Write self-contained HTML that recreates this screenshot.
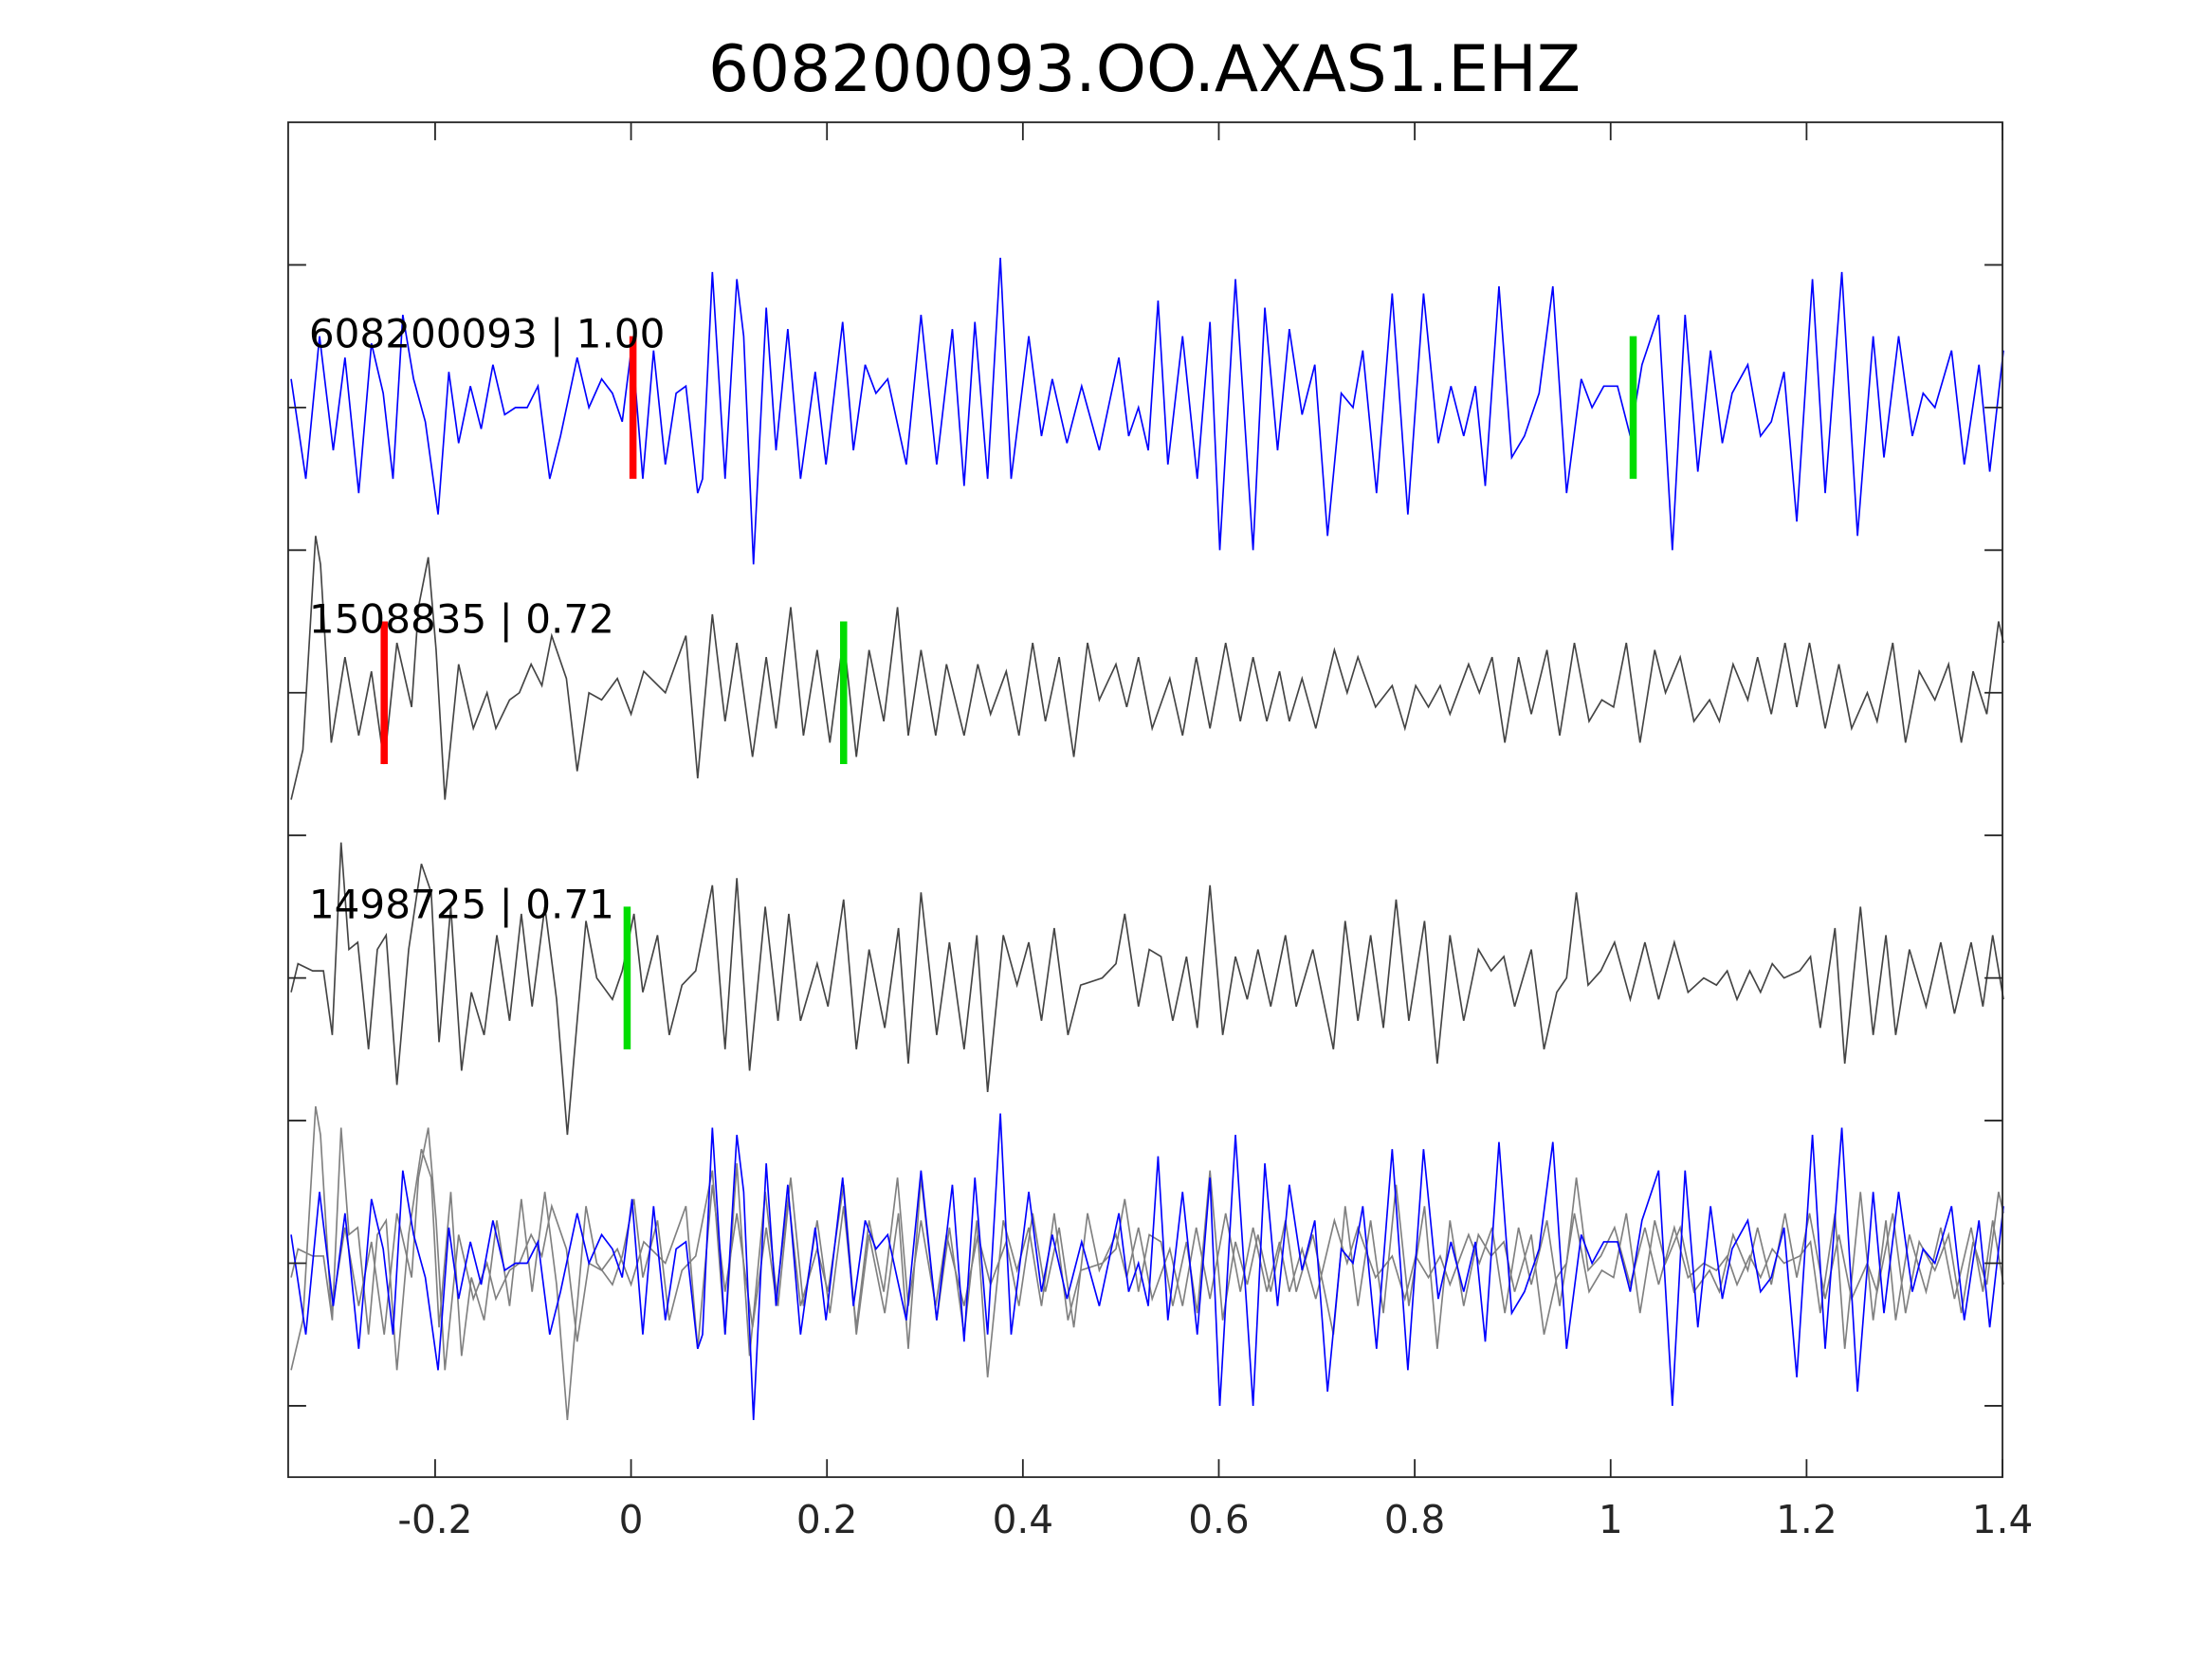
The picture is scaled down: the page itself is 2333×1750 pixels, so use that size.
<!DOCTYPE html>
<html><head><meta charset="utf-8"><style>
html,body{margin:0;padding:0;background:#fff;}
svg{display:block;}
text{font-family:"DejaVu Sans","Liberation Sans",sans-serif;}
</style></head><body>
<svg id="chart" width="2333" height="1750" viewBox="0 0 1552 1164" preserveAspectRatio="none" xmlns="http://www.w3.org/2000/svg">
<rect x="0" y="0" width="1552" height="1164" fill="#fff"/>
<text x="803" y="64" font-size="45" text-anchor="middle" fill="#000">608200093.OO.AXAS1.EHZ</text>
<g id="plot"></g>
</svg>
<script>
const xTicks=[-0.2,0,0.2,0.4,0.6,0.8,1,1.2,1.4];
const xTickLabels=["-0.2","0","0.2","0.4","0.6","0.8","1","1.2","1.4"];
const yTicks=[0,1,2,3,4,5,6,7,8];
const traceBaselines=[7,5,3,1];
const traceLabels=["608200093 | 1.00","1508835 | 0.72","1498725 | 0.71"];
const t1=[-0.347,-0.332,-0.318,-0.304,-0.292,-0.278,-0.265,-0.253,-0.243,-0.233,-0.222,-0.210,-0.197,-0.186,-0.176,-0.164,-0.153,-0.141,-0.129,-0.118,-0.106,-0.095,-0.083,-0.072,-0.055,-0.043,-0.030,-0.019,-0.009,0.001,0.012,0.023,0.035,0.046,0.056,0.068,0.073,0.083,0.096,0.108,0.115,0.125,0.138,0.148,0.160,0.173,0.188,0.199,0.216,0.227,0.239,0.250,0.262,0.281,0.296,0.312,0.328,0.340,0.351,0.364,0.377,0.388,0.406,0.419,0.430,0.445,0.460,0.478,0.498,0.508,0.518,0.528,0.538,0.548,0.563,0.578,0.591,0.601,0.617,0.635,0.647,0.660,0.672,0.685,0.698,0.711,0.725,0.737,0.747,0.761,0.777,0.793,0.809,0.824,0.837,0.850,0.862,0.872,0.886,0.899,0.912,0.927,0.941,0.955,0.970,0.981,0.993,1.007,1.020,1.032,1.049,1.063,1.076,1.089,1.102,1.114,1.124,1.140,1.153,1.164,1.177,1.190,1.206,1.219,1.236,1.252,1.268,1.279,1.294,1.308,1.319,1.331,1.348,1.361,1.376,1.387,1.401];
const v1=[0.2,-0.5,0.5,-0.3,0.35,-0.6,0.45,0.1,-0.5,0.65,0.2,-0.1,-0.75,0.25,-0.25,0.15,-0.15,0.3,-0.05,0,0,0.15,-0.5,-0.2,0.35,0,0.2,0.1,-0.1,0.45,-0.5,0.4,-0.4,0.1,0.15,-0.6,-0.5,0.95,-0.5,0.9,0.5,-1.1,0.7,-0.3,0.55,-0.5,0.25,-0.4,0.6,-0.3,0.3,0.1,0.2,-0.4,0.65,-0.4,0.55,-0.55,0.6,-0.5,1.05,-0.5,0.5,-0.2,0.2,-0.25,0.15,-0.3,0.35,-0.2,0,-0.3,0.75,-0.4,0.5,-0.5,0.6,-1.0,0.9,-1.0,0.7,-0.3,0.55,-0.05,0.3,-0.9,0.1,0,0.4,-0.6,0.8,-0.75,0.8,-0.25,0.15,-0.2,0.15,-0.55,0.85,-0.35,-0.2,0.1,0.85,-0.6,0.2,0,0.15,0.15,-0.2,0.3,0.65,-1.0,0.65,-0.45,0.4,-0.25,0.1,0.3,-0.2,-0.1,0.25,-0.8,0.9,-0.6,0.95,-0.9,0.5,-0.35,0.5,-0.2,0.1,0,0.4,-0.4,0.3,-0.45,0.4];
const t2=[-0.347,-0.335,-0.322,-0.317,-0.306,-0.292,-0.278,-0.265,-0.252,-0.239,-0.224,-0.217,-0.207,-0.199,-0.190,-0.176,-0.161,-0.147,-0.138,-0.124,-0.114,-0.102,-0.091,-0.081,-0.066,-0.055,-0.043,-0.030,-0.014,0,0.013,0.035,0.056,0.068,0.083,0.096,0.108,0.124,0.138,0.148,0.163,0.176,0.190,0.203,0.217,0.230,0.243,0.258,0.272,0.283,0.296,0.311,0.322,0.340,0.354,0.367,0.383,0.396,0.410,0.423,0.437,0.452,0.466,0.478,0.495,0.506,0.518,0.532,0.550,0.563,0.577,0.591,0.607,0.622,0.635,0.649,0.662,0.672,0.685,0.699,0.718,0.731,0.742,0.760,0.777,0.790,0.801,0.814,0.826,0.836,0.855,0.866,0.879,0.892,0.906,0.919,0.935,0.948,0.963,0.978,0.991,1.003,1.016,1.030,1.045,1.056,1.071,1.085,1.101,1.111,1.125,1.140,1.150,1.164,1.178,1.190,1.203,1.219,1.233,1.246,1.262,1.272,1.288,1.301,1.315,1.331,1.345,1.358,1.370,1.384,1.396,1.401];
const v2=[-0.75,-0.4,1.1,0.9,-0.35,0.25,-0.3,0.15,-0.5,0.35,-0.1,0.6,0.95,0.3,-0.75,0.2,-0.25,0,-0.25,-0.05,0,0.2,0.05,0.4,0.1,-0.55,0,-0.05,0.1,-0.15,0.15,0,0.4,-0.6,0.55,-0.2,0.35,-0.45,0.25,-0.25,0.6,-0.3,0.3,-0.35,0.4,-0.45,0.3,-0.2,0.6,-0.3,0.3,-0.3,0.2,-0.3,0.2,-0.15,0.15,-0.3,0.35,-0.2,0.25,-0.45,0.35,-0.05,0.2,-0.1,0.25,-0.25,0.1,-0.3,0.25,-0.25,0.35,-0.2,0.25,-0.2,0.15,-0.2,0.1,-0.25,0.3,0,0.25,-0.1,0.05,-0.25,0.05,-0.1,0.05,-0.15,0.2,0,0.25,-0.35,0.25,-0.15,0.3,-0.3,0.35,-0.2,-0.05,-0.1,0.35,-0.35,0.3,0,0.25,-0.2,-0.05,-0.2,0.2,-0.05,0.25,-0.15,0.35,-0.1,0.35,-0.25,0.2,-0.25,0,-0.2,0.35,-0.35,0.15,-0.05,0.2,-0.35,0.15,-0.15,0.5,0.35];
const t3=[-0.347,-0.340,-0.325,-0.314,-0.305,-0.296,-0.288,-0.279,-0.268,-0.259,-0.250,-0.239,-0.227,-0.214,-0.204,-0.196,-0.184,-0.173,-0.163,-0.150,-0.137,-0.124,-0.112,-0.101,-0.088,-0.076,-0.065,-0.055,-0.046,-0.035,-0.019,-0.009,0.003,0.012,0.027,0.039,0.052,0.066,0.083,0.096,0.108,0.121,0.137,0.150,0.161,0.173,0.190,0.201,0.217,0.230,0.243,0.259,0.273,0.283,0.296,0.312,0.325,0.340,0.353,0.364,0.380,0.394,0.406,0.419,0.432,0.446,0.459,0.481,0.495,0.504,0.518,0.529,0.541,0.553,0.567,0.578,0.591,0.604,0.617,0.629,0.640,0.653,0.668,0.679,0.696,0.717,0.729,0.742,0.755,0.768,0.781,0.794,0.810,0.823,0.836,0.850,0.865,0.878,0.891,0.902,0.919,0.932,0.945,0.955,0.965,0.977,0.990,1.004,1.020,1.035,1.049,1.065,1.079,1.095,1.108,1.119,1.129,1.142,1.153,1.165,1.177,1.193,1.204,1.214,1.229,1.239,1.255,1.268,1.281,1.291,1.305,1.322,1.337,1.351,1.368,1.380,1.390,1.401];
const v3=[-0.1,0.1,0.05,0.05,-0.4,0.95,0.2,0.25,-0.5,0.2,0.3,-0.75,0.2,0.8,0.6,-0.45,0.5,-0.65,-0.1,-0.4,0.3,-0.3,0.45,-0.2,0.5,-0.15,-1.1,-0.3,0.4,0,-0.15,0.05,0.45,-0.1,0.3,-0.4,-0.05,0.05,0.65,-0.5,0.7,-0.65,0.5,-0.3,0.45,-0.3,0.1,-0.2,0.55,-0.5,0.2,-0.35,0.35,-0.6,0.6,-0.4,0.25,-0.5,0.3,-0.8,0.3,-0.05,0.25,-0.3,0.35,-0.4,-0.05,0,0.1,0.45,-0.2,0.2,0.15,-0.3,0.15,-0.35,0.65,-0.4,0.15,-0.15,0.2,-0.2,0.3,-0.2,0.2,-0.5,0.4,-0.3,0.3,-0.35,0.55,-0.3,0.4,-0.6,0.3,-0.3,0.2,0.05,0.15,-0.2,0.2,-0.5,-0.1,0,0.6,-0.05,0.05,0.25,-0.15,0.25,-0.15,0.25,-0.1,0,-0.05,0.05,-0.15,0.05,-0.1,0.1,0,0.05,0.15,-0.35,0.35,-0.6,0.5,-0.4,0.3,-0.4,0.2,-0.2,0.25,-0.25,0.25,-0.2,0.3,-0.15];
const pickTraces=[0,0,1,1,2];
const pickTimes=[0.002,1.023,-0.252,0.217,-0.004];
const pickKinds=["P","S","P","S","S"];

const NS="http://www.w3.org/2000/svg";
const plot=document.getElementById('plot');
const L=202.2,R=1405,T=85.8,B=1036.4;
const xmin=-0.35,xmax=1.4,ymin=-0.5,ymax=9;
function xs(t){return L+(t-xmin)/(xmax-xmin)*(R-L);}
function ys(v){return B-(v-ymin)/(ymax-ymin)*(B-T);}
function mk(tag,attrs){const e=document.createElementNS(NS,tag);for(const k in attrs)e.setAttribute(k,attrs[k]);plot.appendChild(e);return e;}
function pathOf(ts,vs,base){let d="";for(let i=0;i<ts.length;i++){d+=(i?"L":"M")+xs(ts[i]).toFixed(2)+","+ys(base+vs[i]).toFixed(2);}return d;}

const traces=[[t1,v1,'#0000ff'],[t2,v2,'#444444'],[t3,v3,'#444444']];
traces.forEach((tr,i)=>{
  const p=mk('path',{d:pathOf(tr[0],tr[1],traceBaselines[i]),fill:'none',stroke:tr[2],'stroke-width':1.1});
  
  
});
[[t2,v2],[t3,v3]].forEach((tr,i)=>{
  const p=mk('path',{d:pathOf(tr[0],tr[1],traceBaselines[3]),fill:'none',stroke:'#808080','stroke-width':1.1});
  
  
});
const ov=mk('path',{d:pathOf(t1,v1,traceBaselines[3]),fill:'none',stroke:'#0000ff','stroke-width':1.1});



pickTimes.forEach((t,i)=>{
  const b=traceBaselines[pickTraces[i]];
  const ln=mk('line',{x1:xs(t),x2:xs(t),y1:ys(b+0.5),y2:ys(b-0.5),stroke:pickKinds[i]==='P'?'#ff0000':'#00dd00','stroke-width':5});
  
  
});
traceLabels.forEach((s,i)=>{
  const tx=mk('text',{x:216.8,y:ys(traceBaselines[i]+0.5)+8,'font-size':28,fill:'#000'});
  tx.textContent=s;
  
  
});
const box=mk('rect',{x:L,y:T,width:R-L,height:B-T,fill:'none',stroke:'#262626','stroke-width':1.2});


xTicks.forEach((t,i)=>{
  const x=xs(t);
  const a=mk('line',{x1:x,x2:x,y1:B,y2:B-12.6,stroke:'#262626','stroke-width':1.2});
  
  
  const b=mk('line',{x1:x,x2:x,y1:T,y2:T+12.6,stroke:'#262626','stroke-width':1.2});
  
  
  const tx=mk('text',{x:x,y:1075.6,'font-size':27,'text-anchor':'middle',fill:'#262626'});
  tx.textContent=xTickLabels[i];
  
  
});
yTicks.forEach(v=>{
  const y=ys(v);
  const a=mk('line',{x1:L,x2:L+12.6,y1:y,y2:y,stroke:'#262626','stroke-width':1.2});
  
  
  const b=mk('line',{x1:R,x2:R-12.6,y1:y,y2:y,stroke:'#262626','stroke-width':1.2});
  
  
});
</script>
</body></html>
